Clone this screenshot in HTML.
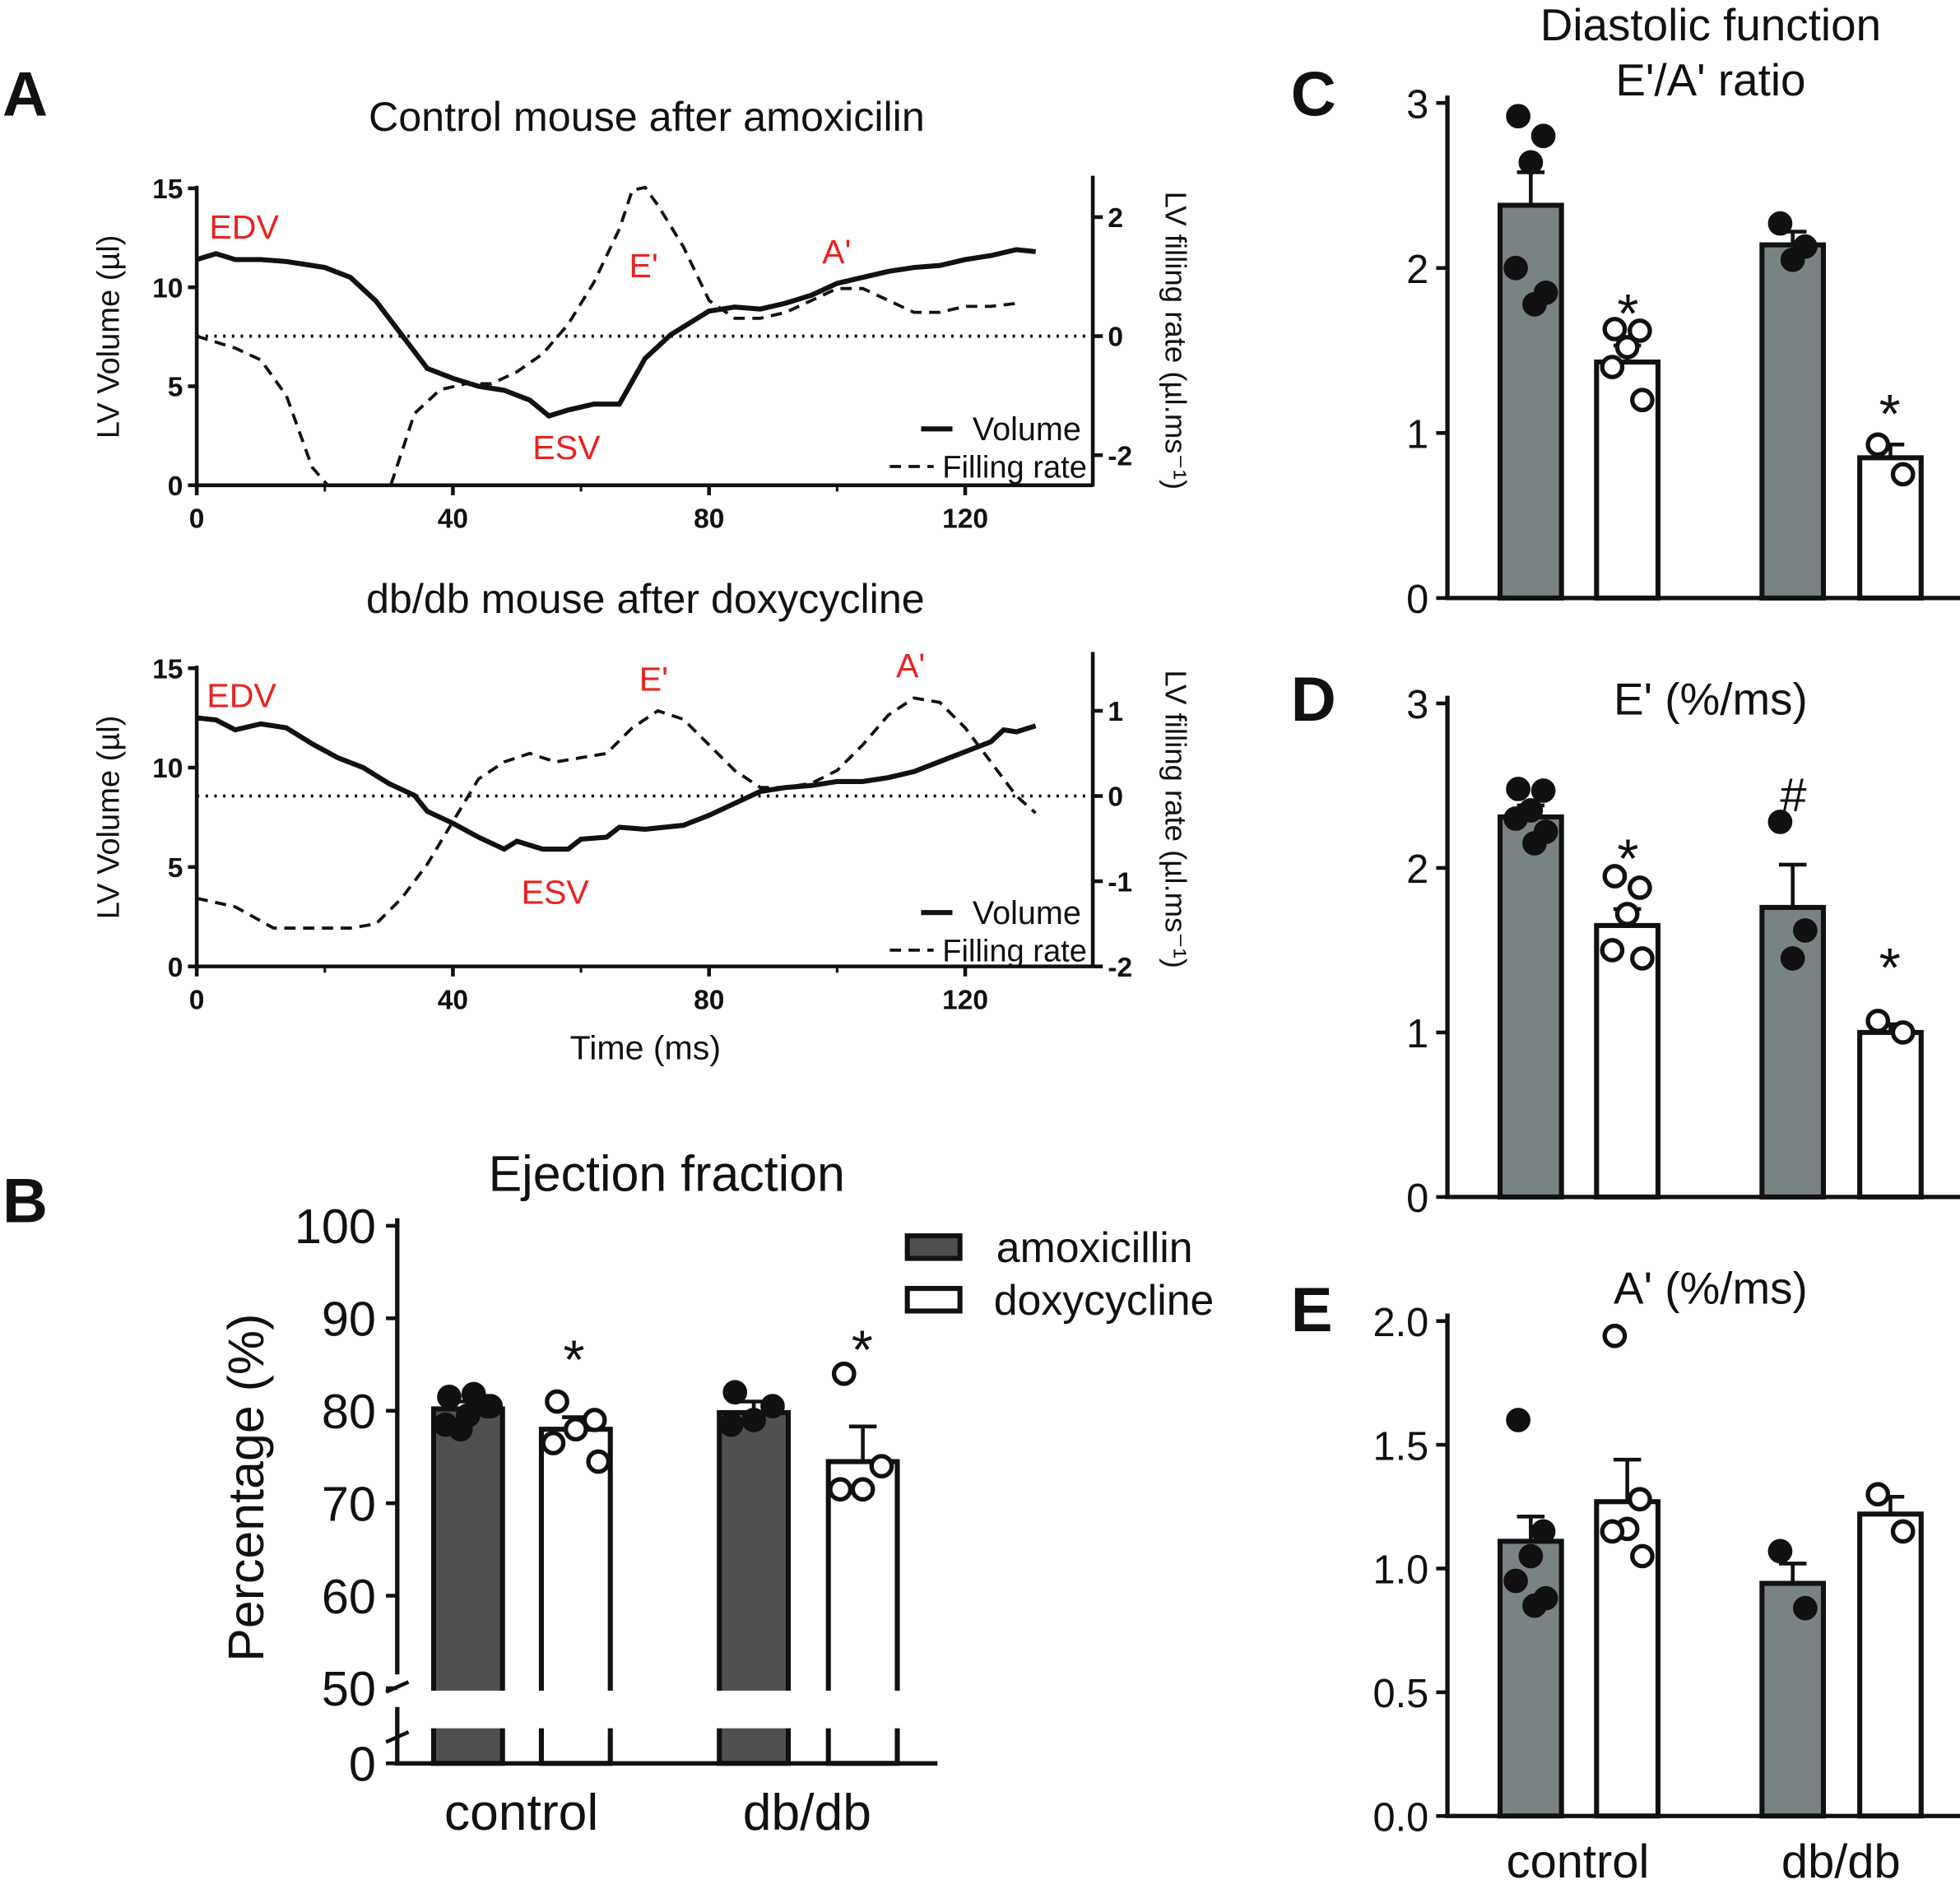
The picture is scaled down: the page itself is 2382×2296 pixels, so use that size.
<!DOCTYPE html>
<html><head><meta charset="utf-8"><style>
html,body{margin:0;padding:0;background:#fff}
svg{display:block;font-family:"Liberation Sans",Arial,sans-serif}
</style></head><body>
<svg id="fig" width="2382" height="2296" viewBox="0 0 1564 1507" xmlns="http://www.w3.org/2000/svg">
<defs>
<clipPath id="clipA1"><rect x="157" y="140" width="715" height="248"/></clipPath>
<clipPath id="clipA2"><rect x="157" y="520" width="715" height="252"/></clipPath>
</defs>
<g id="root"></g>
</svg>
<script>
// ---------- data ----------
const a1VolT=[0,3,6,10,14,20,24,28,32,36,40,44,48,52,55,58,62,66,70,74,76,80,84,88,92,96,100,104,108,112,116,120,124,128,131];
const a1Vol=[11.4,11.7,11.4,11.4,11.3,11.0,10.5,9.3,7.6,5.9,5.4,5.0,4.8,4.3,3.5,3.8,4.1,4.1,6.4,7.6,8.0,8.8,9.0,8.9,9.2,9.6,10.2,10.5,10.8,11.0,11.1,11.4,11.6,11.9,11.8];
const a1RateT=[0,6,10,14,18,22,26,30,34,38,42,46,50,54,58,62,66,68,70,72,76,80,84,88,92,96,100,104,108,112,116,120,124,128];
const a1Rate=[0,-0.2,-0.4,-1.0,-2.2,-2.7,-3.0,-2.6,-1.3,-0.9,-0.8,-0.8,-0.6,-0.3,0.2,0.9,1.8,2.45,2.5,2.2,1.5,0.6,0.3,0.3,0.4,0.6,0.8,0.8,0.6,0.4,0.4,0.5,0.5,0.55];
const a2VolT=[0,3,6,10,14,18,22,26,30,34,36,40,44,48,50,54,58,60,64,66,70,76,80,84,88,92,96,100,104,108,112,116,120,124,126,128,131];
const a2Vol=[12.5,12.4,11.9,12.2,12.0,11.2,10.5,10.0,9.2,8.6,7.8,7.2,6.5,5.9,6.3,5.9,5.9,6.4,6.5,7.0,6.9,7.1,7.6,8.2,8.8,9.0,9.1,9.3,9.3,9.5,9.8,10.3,10.8,11.3,11.9,11.8,12.1];
const a2RateT=[0,6,12,16,20,24,28,32,36,40,44,48,52,56,60,64,68,72,76,80,84,88,92,96,100,104,108,112,116,120,124,128,131];
const a2Rate=[-1.2,-1.3,-1.55,-1.55,-1.55,-1.55,-1.5,-1.2,-0.8,-0.3,0.2,0.4,0.5,0.4,0.45,0.5,0.8,1.0,0.9,0.6,0.3,0.1,0.1,0.15,0.3,0.6,0.95,1.15,1.1,0.8,0.4,0.0,-0.2];

const bMeans=[80.2,78.0,79.8,74.5];
const bErr=[0.8,1.3,1.2,3.8];
const bPts=[[81.5,80.5,79.5,78.5,80.5,81.8,78],[81,79,78,76.5,74.5],[82,80.5,79,78.5],[84,74,71.5,71.5]];
const cMeans=[2.38,1.43,2.14,0.85];
const cErr=[0.2,0.1,0.08,0.08];
const cPts=[[2.92,2.8,2.64,2.0,1.85,1.78],[1.63,1.62,1.52,1.4,1.2],[2.27,2.13,2.05],[0.93,0.75]];
const dMeans=[2.31,1.65,1.76,1.0];
const dErr=[0.07,0.1,0.26,0.05];
const dPts=[[2.48,2.47,2.35,2.3,2.22,2.15],[1.95,1.88,1.72,1.5,1.45],[2.28,1.62,1.45],[1.07,1.0]];
const eMeans=[1.11,1.27,0.94,1.22];
const eErr=[0.1,0.17,0.08,0.07];
const ePts=[[1.6,1.15,1.05,0.95,0.88,0.85],[1.94,1.28,1.16,1.15,1.05],[1.07,0.84],[1.3,1.15]];

// ---------- helpers ----------
const NS="http://www.w3.org/2000/svg";
const root=document.getElementById('root');
function el(tag,attrs,parent,text){const e=document.createElementNS(NS,tag);for(const k in attrs)e.setAttribute(k,attrs[k]);if(text!==undefined)e.textContent=text;(parent||root).appendChild(e);return e;}
function txt(x,y,s,size,opts,name){const e=el('text',Object.assign({x:x,y:y,'font-size':size,fill:'#111'},opts||{}),root,s);

return e;}
function line(x1,y1,x2,y2,w,extra,name){const e=el('line',Object.assign({x1,y1,x2,y2,stroke:'#111','stroke-width':w},extra||{}));

return e;}

// ---------- Panel A ----------
function panelA(cfg){
 const xs=t=>157+t*5.11;
 const yv=v=>cfg.y0-(cfg.y0-cfg.y15)*v/15;
 const yr=r=>cfg.rz-r*cfg.rs;
 txt(cfg.titleX,cfg.titleY,cfg.title,33,{'text-anchor':'middle'},'panel-a-title');
 line(157,cfg.y15-2,157,cfg.y0+1,3);
 line(156,cfg.y0,872,cfg.y0,3,{},'x-axis');
 line(872,cfg.rTop,872,cfg.y0+1,3,{},'right-axis');
 [0,5,10,15].forEach(v=>{line(150,yv(v),157,yv(v),3,{},'y-tick');txt(146,yv(v)+8,String(v),22,{'text-anchor':'end','font-weight':'bold'},'y-tick-label');});
 [0,40,80,120].forEach(t=>{line(xs(t),cfg.y0,xs(t),cfg.y0+8,3,{},'x-tick');txt(xs(t),cfg.y0+34,String(t),22,{'text-anchor':'middle','font-weight':'bold'},'x-tick-label');});
 cfg.rTicks.forEach(r=>{line(872,yr(r),880,yr(r),3,{},'right-tick');txt(884,yr(r)+8,String(r),22,{'font-weight':'bold'},'right-tick-label');});
 [20,60,100].forEach(t=>line(xs(t),cfg.y0,xs(t),cfg.y0+5,2,{},'x-minor-tick'));
 line(157,cfg.rz,872,cfg.rz,2.5,{'stroke-dasharray':'2,5'},'zero-line');
 const vl=el('polyline',{points:cfg.vt.map((t,i)=>xs(t)+','+yv(cfg.v[i])).join(' '),fill:'none',stroke:'#111','stroke-width':4,'clip-path':cfg.clip});
 
 
 const rl=el('polyline',{points:cfg.rt.map((t,i)=>xs(t)+','+yr(cfg.r[i])).join(' '),fill:'none',stroke:'#111','stroke-width':2.5,'stroke-dasharray':'9,6','clip-path':cfg.clip});
 
 
 txt(0,0,'LV Volume  (µl)',25,{'text-anchor':'middle',transform:`translate(95,${(cfg.y0+cfg.y15)/2}) rotate(-90)`},'y-axis-title');
 txt(0,0,'LV filling rate  (µl.ms⁻¹)',24,{'text-anchor':'middle',transform:`translate(930,${(cfg.y0+cfg.rTop)/2+8}) rotate(90)`},'right-axis-title');
 cfg.red.forEach(a=>txt(a[0],a[1],a[2],27,{fill:'#e8231f'},'annotation-'+a[2]));
 line(735,cfg.legY,760,cfg.legY,4,{},'legend-volume-line');
 txt(776,cfg.legY+9,'Volume',26,{},'legend-volume');
 line(710,cfg.legY+30,745,cfg.legY+30,2.5,{'stroke-dasharray':'9,6'},'legend-rate-line');
 txt(752,cfg.legY+39,'Filling rate',25,{},'legend-rate');
}
txt(2,92,'A',50,{'font-weight':'bold'},'panel-label-a');
panelA({title:'Control mouse after amoxicilin',titleX:516,titleY:104,y0:387,y15:150,rz:268,rs:47.5,rTop:140,rTicks:[2,0,-2],vt:a1VolT,v:a1Vol,rt:a1RateT,r:a1Rate,clip:'url(#clipA1)',
 red:[[167,190,'EDV'],[502,221,"E'"],[656,210,"A'"],[425,366,'ESV']],legY:342});
panelA({title:'db/db mouse after doxycycline',titleX:515,titleY:489,y0:771,y15:533,rz:635,rs:68,rTop:520,rTicks:[1,0,-1,-2],vt:a2VolT,v:a2Vol,rt:a2RateT,r:a2Rate,clip:'url(#clipA2)',
 red:[[165,564,'EDV'],[510,551,"E'"],[715,540,"A'"],[416,721,'ESV']],legY:728});
txt(515,845,'Time  (ms)',27,{'text-anchor':'middle'},'x-axis-title');

// ---------- bar panels ----------
function dots(cx,y,vals,open,r,name,spread){
 const off=[-10,10,0,-12,12,3,-4];
 vals.forEach((v,i)=>{const c=el('circle',{cx:cx+off[i%off.length]*spread,cy:y(v),r:r,fill:open?'#fff':'#111',stroke:'#111','stroke-width':3.5});
 
 });
}
function bars(cfg){
 cfg.means.forEach((m,i)=>{
  const x0=cfg.bx[i],w=cfg.bw,open=i%2===1;
  const top=cfg.y(m);
  const b=el('rect',{x:x0,y:top,width:w,height:cfg.base-top,fill:open?'#fff':cfg.fill,stroke:'#111','stroke-width':4});
  
  
  const cx=x0+w/2,ye=cfg.y(m+cfg.err[i]);
  line(cx,top,cx,ye,3,{},'error-bar');line(cx-11,ye,cx+11,ye,3,{},'error-cap');
  dots(cx,cfg.y,cfg.pts[i],open,cfg.r,'point-'+cfg.id+'-'+i,cfg.spread||1);
 });
}
// Panel B
txt(2,975,'B',50,{'font-weight':'bold'},'panel-label-b');
txt(532,950,'Ejection fraction',40,{'text-anchor':'middle'},'panel-b-title');
const yB=v=>1347-(v-50)*7.38;
line(317,972,317,1336,3.5,{},'y-axis-b');line(317,1362,317,1408,3.5,{},'y-axis-b-lower');
line(315,1407,748,1407,3.5,{},'x-axis-b');
[100,90,80,70,60,50].forEach(v=>{line(308,yB(v),317,yB(v),3,{},'y-tick-b');txt(300,yB(v)+14,String(v),39,{'text-anchor':'end'},'y-tick-label-b');});
line(308,1407,317,1407,3,{},'y-tick-b');txt(300,1421,'0',39,{'text-anchor':'end'},'y-tick-label-b');
line(308,1350,326,1342,3,{},'axis-break');line(308,1390,326,1382,3,{},'axis-break');
txt(0,0,'Percentage (%)',40,{'text-anchor':'middle',transform:'translate(210,1187) rotate(-90)'},'y-axis-title-b');
bars({id:'b',means:bMeans,err:bErr,pts:bPts,y:yB,base:1407,bx:[346,432,574,661],bw:55,fill:'#505050',r:8,spread:1.5});
const gap=el('rect',{x:330,y:1349,width:400,height:30,fill:'#fff'});


txt(458,1100,'*',44,{'text-anchor':'middle'},'significance-mark');
txt(688,1092,'*',44,{'text-anchor':'middle'},'significance-mark');
txt(416,1460,'control',41,{'text-anchor':'middle'},'x-label-control');
txt(644,1460,'db/db',41,{'text-anchor':'middle'},'x-label-dbdb');
const l1=el('rect',{x:724,y:986,width:42,height:18,fill:'#505050',stroke:'#111','stroke-width':4});


const l2=el('rect',{x:724,y:1028,width:42,height:18,fill:'#fff',stroke:'#111','stroke-width':4});


txt(795,1007,'amoxicillin',34,{},'legend-amoxicillin');
txt(793,1049,'doxycycline',34,{},'legend-doxycycline');

function rightPanel(cfg){
 line(1155,cfg.top-6,1155,cfg.base+1,3.5,{},'y-axis-'+cfg.id);
 line(1153,cfg.base,1564,cfg.base,3.5,{},'x-axis-'+cfg.id);
 cfg.ticks.forEach(v=>{line(1146,cfg.y(v),1155,cfg.y(v),3,{},'y-tick');txt(1140,cfg.y(v)+12,cfg.fmt(v),32,{'text-anchor':'end'},'y-tick-label');});
 bars({id:cfg.id,means:cfg.means,err:cfg.err,pts:cfg.pts,y:cfg.y,base:cfg.base,bx:[1197,1274,1406,1484],bw:49,fill:'#7a8384',r:8});
 cfg.marks.forEach(m=>txt(m[0],m[1],m[2],m[2]==='#'?38:44,{'text-anchor':'middle'},'significance-mark'));
}
txt(1030,92,'C',50,{'font-weight':'bold'},'panel-label-c');
txt(1365,32,'Diastolic function',36,{'text-anchor':'middle'},'panel-c-title');
txt(1365,76,"E'/A' ratio",36,{'text-anchor':'middle'},'panel-c-subtitle');
const yC=v=>477-v*131.7;
rightPanel({id:'c',top:82,base:477,y:yC,ticks:[0,1,2,3],fmt:v=>String(v),means:cMeans,err:cErr,pts:cPts,marks:[[1299,265,'*'],[1508,345,'*']]});
txt(1030,575,'D',50,{'font-weight':'bold'},'panel-label-d');
txt(1365,570,"E' (%/ms)",36,{'text-anchor':'middle'},'panel-d-title');
const yD=v=>955-v*131.3;
rightPanel({id:'d',top:561,base:955,y:yD,ticks:[0,1,2,3],fmt:v=>String(v),means:dMeans,err:dErr,pts:dPts,marks:[[1299,700,'*'],[1431,647,'#'],[1508,787,'*']]});
txt(1030,1062,'E',50,{'font-weight':'bold'},'panel-label-e');
txt(1365,1040,"A' (%/ms)",36,{'text-anchor':'middle'},'panel-e-title');
const yE=v=>1449-v*197.5;
rightPanel({id:'e',top:1054,base:1449,y:yE,ticks:[0,0.5,1,1.5,2],fmt:v=>v.toFixed(1),means:eMeans,err:eErr,pts:ePts,marks:[]});
txt(1259,1498,'control',38,{'text-anchor':'middle'},'x-label-control-e');
txt(1469,1498,'db/db',38,{'text-anchor':'middle'},'x-label-dbdb-e');
</script>
</body></html>
